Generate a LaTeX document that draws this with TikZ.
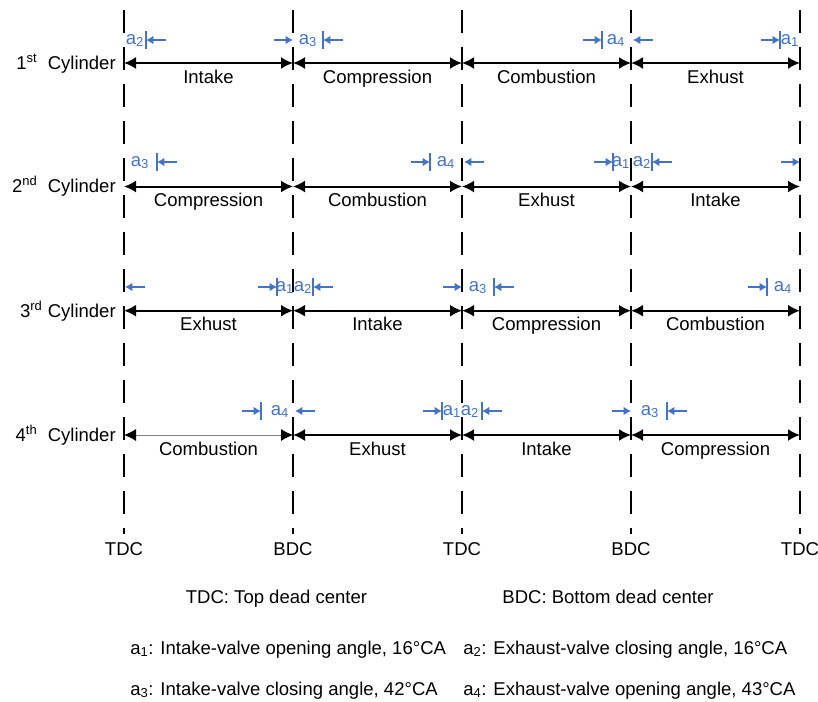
\documentclass[tikz,border=0pt]{standalone}
\usepackage{fontspec}
\setmainfont{Liberation Sans}
\usetikzlibrary{arrows.meta,positioning}
\definecolor{vblue}{HTML}{4472C4}
\tikzset{font=\fontsize{13.9}{16.7}\selectfont}
\tikzset{
  deadline/.style={line width=2.2pt,dash pattern=on 17.25pt off 10.5pt},
  stroke/.style={line width=1.5pt,{Latex[length=9pt,width=9pt]}-{Latex[length=9pt,width=9pt]}},
  thinstroke/.style={gray,line width=0.6pt,{Latex[length=9pt,width=9pt,color=black]}-{Latex[length=9pt,width=9pt,color=black]}},
  phase/.style={anchor=base,yshift=-15pt},
  cyl/.style={anchor=base east,inner sep=0pt},
  vtip/.style={vblue,line width=1.3pt,-{Latex[length=5.5pt,width=6.5pt]}},
  vbar/.style={vblue,line width=1.3pt},
  vtxt/.style={text=vblue,anchor=base,inner sep=0pt},
  note/.style={anchor=base west,inner sep=0pt}
}
% valve marks: arrow from the left, arrow from the right, stop bar
\newcommand{\fromleft}[2]{\draw[vtip] (#1-19,#2) -- (#1,#2);}
\newcommand{\fromright}[2]{\draw[vtip] (#1+20,#2) -- (#1,#2);}
\newcommand{\vstop}[2]{\draw[vbar] (#1,#2-9) -- (#1,#2+9);}

\begin{document}
\begin{tikzpicture}[x=0.75pt,y=-0.75pt]
  \useasboundingbox (0,0) rectangle (818,701);
  % dead centers
  \foreach \x/\t [count=\i from 0] in {124/TDC,293/BDC,462/TDC,631/BDC,800/TDC} {
    \draw[deadline] (\x,10) -- (\x,534);
    \node[anchor=base] (dc\i) at (\x,555) {\t};
  }
  \foreach \y [count=\r] in {63,186.5,310.7,435}
    \foreach \x [count=\i from 0] in {124,293,462,631,800}
      \coordinate (c\r-\i) at (\x,\y);

  \node[cyl] (cyl1) at (116,69) {1\textsuperscript{st}\ \ Cylinder};
  \node[cyl] (cyl2) at (116,192.5) {2\textsuperscript{nd}\ \ Cylinder};
  \node[cyl] (cyl3) at (116,317) {3\textsuperscript{rd}\ Cylinder};
  \node[cyl] (cyl4) at (116,441) {4\textsuperscript{th}\ \ Cylinder};

  % strokes
  \foreach \r/\pa/\pb/\pc/\pd in {1/Intake/Compression/Combustion/Exhust,
      2/Compression/Combustion/Exhust/Intake,3/Exhust/Intake/Compression/Combustion} {
    \draw[stroke] (c\r-0) -- node[phase] {\pa} (c\r-1);
    \draw[stroke] (c\r-1) -- node[phase] {\pb} (c\r-2);
    \draw[stroke] (c\r-2) -- node[phase] {\pc} (c\r-3);
    \draw[stroke] (c\r-3) -- node[phase] {\pd} (c\r-4);
  }
  \draw[thinstroke] (c4-0) -- node[phase,text=black] {Combustion} (c4-1);
  \draw[stroke] (c4-1) -- node[phase] {Exhust} (c4-2);
  \draw[stroke] (c4-2) -- node[phase] {Intake} (c4-3);
  \draw[stroke] (c4-3) -- node[phase] {Compression} (c4-4);

  % 1st cylinder
  \node[vtxt] (a2-1) at (135,44) {a\textsubscript{2}};
  \vstop{146}{40} \fromright{146}{40}
  \fromleft{293}{40}
  \node[vtxt] (a3-1) at (308,44) {a\textsubscript{3}};
  \vstop{323}{40} \fromright{323}{40}
  \fromleft{602}{40} \vstop{602}{40}
  \node[vtxt] (a4-1) at (616,44) {a\textsubscript{4}};
  \fromright{633}{40}
  \fromleft{780}{40} \vstop{780}{40}
  \node[vtxt] (a1-1) at (790,44) {a\textsubscript{1}};

  % 2nd cylinder
  \node[vtxt] (a3-2) at (140,166) {a\textsubscript{3}};
  \vstop{157}{162} \fromright{157}{162}
  \fromleft{430}{162} \vstop{430}{162}
  \node[vtxt] (a4-2) at (446,166) {a\textsubscript{4}};
  \fromright{464}{162}
  \fromleft{613}{162} \vstop{613}{162}
  \node[vtxt] (a1-2) at (621,166) {a\textsubscript{1}};
  \node[vtxt] (a2-2) at (642,166) {a\textsubscript{2}};
  \vstop{652}{162} \fromright{652}{162}
  \fromleft{800}{162}

  % 3rd cylinder
  \fromright{125}{287}
  \fromleft{277}{287} \vstop{277}{287}
  \node[vtxt] (a1-3) at (285,291) {a\textsubscript{1}};
  \node[vtxt] (a2-3) at (303,291) {a\textsubscript{2}};
  \vstop{313}{287} \fromright{313}{287}
  \fromleft{462}{287}
  \node[vtxt] (a3-3) at (478,291) {a\textsubscript{3}};
  \vstop{494}{287} \fromright{494}{287}
  \fromleft{767}{287} \vstop{767}{287}
  \node[vtxt] (a4-3) at (783,291) {a\textsubscript{4}};

  % 4th cylinder
  \fromleft{261}{411} \vstop{261}{411}
  \node[vtxt] (a4-4) at (280,415) {a\textsubscript{4}};
  \fromright{295}{411}
  \fromleft{442}{411} \vstop{442}{411}
  \node[vtxt] (a1-4) at (452,415) {a\textsubscript{1}};
  \node[vtxt] (a2-4) at (470,415) {a\textsubscript{2}};
  \vstop{482}{411} \fromright{482}{411}
  \fromleft{631}{411}
  \node[vtxt] (a3-4) at (650,415) {a\textsubscript{3}};
  \vstop{667}{411} \fromright{667}{411}

  % legend
  \node[anchor=base] (tdcnote) at (276.5,603) {TDC: Top dead center};
  \node[anchor=base] (bdcnote) at (608,603) {BDC: Bottom dead center};
  \node[note] (n1) at (130,654) {a\textsubscript{1}: Intake-valve opening angle, 16°CA};
  \node[note] (n2) at (463,654) {a\textsubscript{2}: Exhaust-valve closing angle, 16°CA};
  \node[note] (n3) at (130,695) {a\textsubscript{3}: Intake-valve closing angle, 42°CA};
  \node[note] (n4) at (463,695) {a\textsubscript{4}: Exhaust-valve opening angle, 43°CA};
\end{tikzpicture}
\end{document}
